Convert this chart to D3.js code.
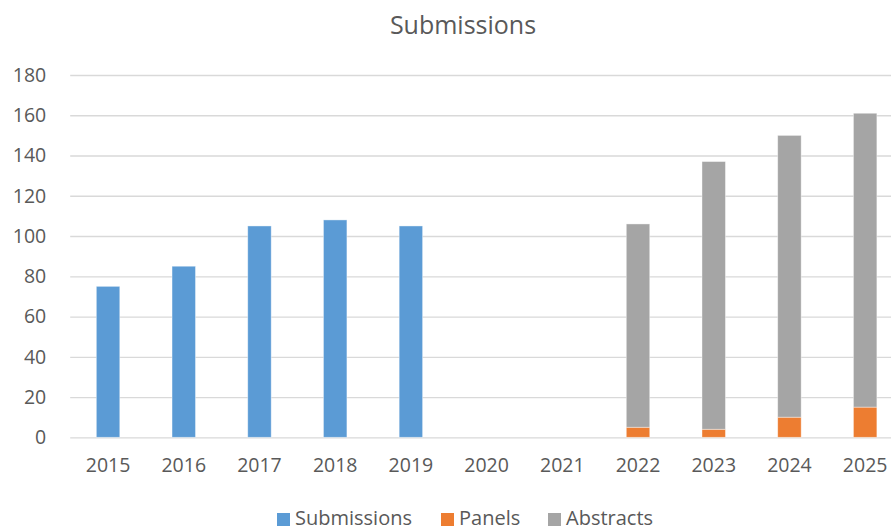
<!DOCTYPE html>
<html><head><meta charset="utf-8">
<script src="https://cdn.jsdelivr.net/npm/d3@7/dist/d3.min.js"></script>
<style>body{margin:0;background:#fff;}svg{display:block;}</style>
</head><body>
<svg id="c" width="891" height="530"></svg>
<script>
const years = ["2015","2016","2017","2018","2019","2020","2021","2022","2023","2024","2025"];
const submissions = [75, 85, 105, 108, 105, 0, 0, 0, 0, 0, 0];
const panels = [0, 0, 0, 0, 0, 0, 0, 5, 4, 10, 15];
const abstracts = [0, 0, 0, 0, 0, 0, 0, 101, 133, 140, 146];
const yTicks = [0, 20, 40, 60, 80, 100, 120, 140, 160, 180];
const seriesNames = ["Submissions", "Panels", "Abstracts"];
const colors = ["#5B9BD5", "#ED7D31", "#A5A5A5"];

const font = "'Open Sans', 'Liberation Sans', sans-serif";
const svg = d3.select("#c");
const x = d3.scaleBand().domain(years).range([70.2, 903]).paddingInner(0.69).paddingOuter(0.345);
const y = d3.scaleLinear().domain([0, 180]).range([437.3, 75]);

svg.append("text").attr("x", 463).attr("y", 34).attr("text-anchor", "middle")
  .attr("font-family", font).attr("font-size", 25).attr("fill", "#595959").text("Submissions");

// gridlines
const yAxis = d3.axisLeft(y).tickValues(yTicks).tickSize(-(903 - 70.2)).tickPadding(24);
const ga = svg.append("g").attr("transform", "translate(70.2,0)").call(yAxis);
ga.select(".domain").remove();
ga.selectAll(".tick line").attr("stroke", "#D9D9D9").attr("stroke-width", 1.3);
ga.selectAll(".tick text").attr("font-family", font).attr("font-size", 19.5).attr("fill", "#595959");

const table = years.map((yr, i) => ({year: yr, Submissions: submissions[i], Panels: panels[i], Abstracts: abstracts[i]}));
const stack = d3.stack().keys(seriesNames)(table);

svg.append("g").selectAll("g").data(stack).join("g")
  .attr("fill", (d, i) => colors[i])
  .selectAll("rect").data(d => d.filter(p => p[1] - p[0] > 0)).join("rect")
  .attr("x", d => x(d.data.year))
  .attr("width", x.bandwidth())
  .attr("y", d => y(d[1]))
  .attr("height", d => y(d[0]) - y(d[1]))
  .attr("stroke", "#ffffff").attr("stroke-opacity", 0.5).attr("stroke-width", 0.8);

const xAxis = d3.axisBottom(x).tickSize(0).tickPadding(21);
const gx = svg.append("g").attr("transform", "translate(0,437.3)").call(xAxis);
gx.select(".domain").remove();
gx.selectAll(".tick text").attr("font-family", font).attr("font-size", 19.5).attr("fill", "#595959");

// legend
const legendX = [277, 441, 548];
const lg = svg.append("g");
seriesNames.forEach((n, i) => {
  lg.append("rect").attr("x", legendX[i]).attr("y", 513).attr("width", 13).attr("height", 13).attr("fill", colors[i]);
  lg.append("text").attr("x", legendX[i] + 18).attr("y", 525).attr("font-family", font)
    .attr("font-size", 20).attr("textLength", null).attr("fill", "#595959").text(n);
});
</script>
</body></html>
